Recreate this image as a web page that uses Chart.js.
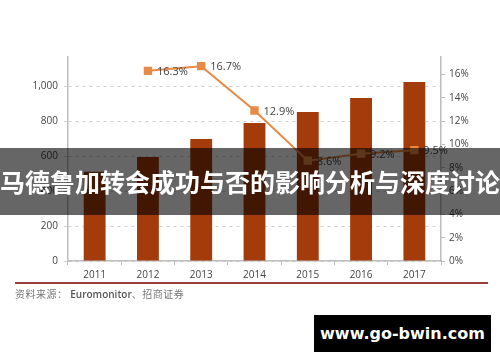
<!DOCTYPE html>
<html>
<head>
<meta charset="utf-8">
<script src="https://cdn.jsdelivr.net/npm/chart.js@4.4.1/dist/chart.umd.min.js"></script>
<style>
  html, body { margin: 0; padding: 0; background: #fff; }
  #wrap { position: relative; width: 500px; height: 362px; overflow: hidden; }
  #chart { position: absolute; left: 0; top: 0; }
  .rule { position: absolute; left: 15px; top: 282px; width: 473px; height: 2px; background: #9b3b3b; }
  .source { position: absolute; left: 15px; top: 286px; font: 10px 'Noto Sans CJK SC', sans-serif; color: #777; letter-spacing: 0.5px; }
  .source b { font-family: 'Open Sans', sans-serif; font-weight: 600; color: #555; letter-spacing: 0; }
  .banner { position: absolute; left: 0; top: 148px; width: 500px; height: 67px; background: rgba(0,0,0,0.6);
            color: #fff; font: bold 25px 'Noto Sans CJK SC', sans-serif; line-height: 67px; text-align: center; white-space: nowrap; }
  .mark { position: absolute; left: 314px; top: 315px; width: 177px; height: 37px; background: #000;
          color: #fff; font: bold 16px 'DejaVu Sans', sans-serif; line-height: 37px; text-align: center; }
</style>
</head>
<body>
<div id="wrap">
  <canvas id="chart" width="500" height="362"></canvas>
  <div class="rule"></div>
  <div class="source">资料来源： <b>Euromonitor</b>、招商证券</div>
  <div class="banner">马德鲁加转会成功与否的影响分析与深度讨论</div>
  <div class="mark">www.go-bwin.com</div>
</div>
<script>
// 데이터
const years = ['2011', '2012', '2013', '2014', '2015', '2016', '2017'];
const salesValues = [510, 595, 697, 789, 851, 931, 1023];
const growthRates = [null, 16.3, 16.7, 12.9, 8.6, 9.2, 9.5];

const barColor = '#a33b0a';
const lineColor = '#e88a45';
const axisColor = '#bdbdbd';

// 점 옆에 퍼센트 라벨
const pointLabels = {
    id: 'pointLabels',
    afterDatasetsDraw(chart) {
        const { ctx } = chart;
        const meta = chart.getDatasetMeta(1);
        ctx.save();
        ctx.font = "11px 'Open Sans', sans-serif";
        ctx.fillStyle = '#444';
        ctx.textBaseline = 'middle';
        meta.data.forEach((pt, i) => {
            if (growthRates[i] == null) return;
            ctx.fillText(growthRates[i].toFixed(1) + '%', pt.x + 9, pt.y + 1);
        });
        ctx.restore();
    }
};

// 위쪽 잘린 부분 흰색으로 덮기
const topCrop = {
    id: 'topCrop',
    afterDraw(chart) {
        const { ctx } = chart;
        ctx.save();
        ctx.fillStyle = '#fff';
        ctx.fillRect(0, 0, 500, 56);
        ctx.restore();
    }
};

new Chart(document.getElementById('chart'), {
    data: {
        labels: years,
        datasets: [
            {
                type: 'bar',
                data: salesValues,
                yAxisID: 'y',
                backgroundColor: barColor,
                barPercentage: 0.41,
                categoryPercentage: 1,
                order: 1
            },
            {
                type: 'line',
                data: growthRates,
                yAxisID: 'y1',
                borderColor: lineColor,
                borderWidth: 2,
                pointStyle: 'rect',
                pointRadius: 4.5,
                pointBackgroundColor: lineColor,
                pointBorderColor: lineColor,
                spanGaps: false,
                order: 0
            }
        ]
    },
    options: {
        responsive: false,
        animation: false,
        layout: { padding: { top: 51, left: 0, right: 0, bottom: 0 } },
        plugins: { legend: { display: false }, tooltip: { enabled: false } },
        scales: {
            x: {
                afterFit(s) { s.height = 101; },
                grid: { drawOnChartArea: false, tickLength: 4, color: axisColor, offset: true },
                border: { color: axisColor, width: 1.5 },
                ticks: { color: '#444', font: { family: "'Open Sans', sans-serif", size: 10 }, padding: 4 }
            },
            y: {
                position: 'left',
                min: 0, max: 1200,
                afterFit(s) { s.width = 68; },
                grid: { color: '#d0d0d0', tickLength: 4, lineWidth: 1 },
                border: { color: axisColor, width: 1.5, dash: [3, 4] },
                ticks: {
                    stepSize: 200, padding: 6, color: '#444',
                    font: { family: "'Open Sans', sans-serif", size: 10 },
                    callback: v => v === 1200 ? '' : v.toLocaleString('en-US')
                }
            },
            y1: {
                position: 'right',
                min: 0, max: 18,
                afterFit(s) { s.width = 59; },
                grid: { drawOnChartArea: false, tickLength: 4, color: axisColor },
                border: { color: axisColor, width: 1.5 },
                ticks: {
                    stepSize: 2, padding: 4, color: '#444',
                    font: { family: "'Open Sans', sans-serif", size: 10 },
                    callback: v => v === 18 ? '' : v + '%'
                }
            }
        }
    },
    plugins: [pointLabels, topCrop]
});
</script>
</body>
</html>
